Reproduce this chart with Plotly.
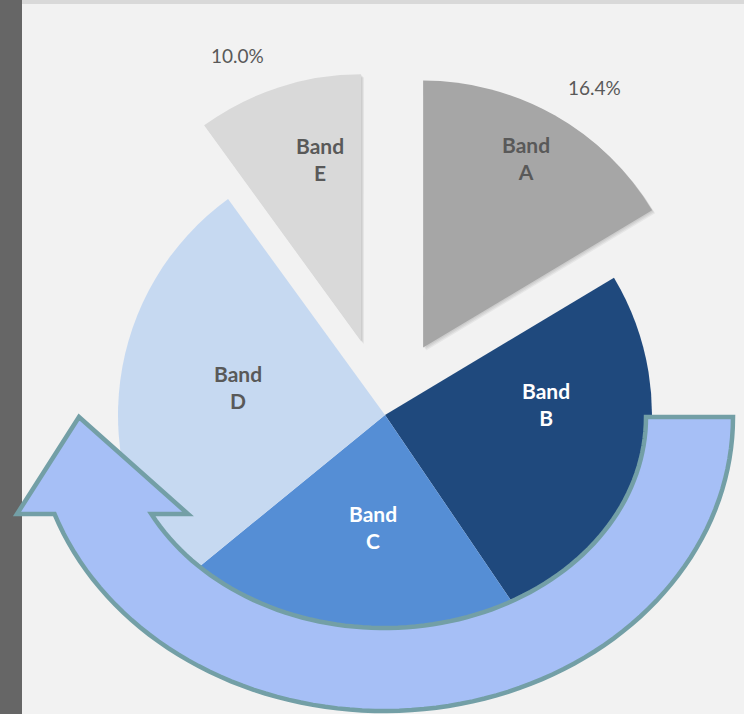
import numpy as np
import plotly.graph_objects as go

# ---------------- data ----------------
labels = ["Band A", "Band B", "Band C", "Band D", "Band E"]
values = [16.4, 24.1, 23.6, 25.9, 10.0]
label_text = ["Band<br>A", "Band<br>B", "Band<br>C", "Band<br>D", "Band<br>E"]
exploded = ["Band A", "Band E"]
pct_shown = ["Band A", "Band E"]

colors = ["#a6a6a6", "#1f497d", "#558ed5", "#c6d9f1", "#d9d9d9"]
text_colors = ["#595959", "#ffffff", "#ffffff", "#595959", "#595959"]

# label placement (style): angular offset from slice mid (deg), radius fraction
lab_dtheta = [-1.0, -16.3, -2.2, 3.3, 5.2]
lab_rfrac = [0.81, 0.605, 0.42, 0.56, 0.70]
pct_dtheta = [3.9, 0, 0, 0, -5.4]
pct_rfrac = [1.165, 0, 0, 0, 1.165]

# ---------------- layout constants ----------------
W, H = 744, 714
CX, CY, R = 385, 415, 267          # pie centre / radius in pixels
PULL = 0.29                        # explode distance as fraction of radius
FONT = "Lato"
TRANSPARENT = "rgba(0,0,0,0)"

total = sum(values)
cum = np.cumsum([0] + values[:-1])
mid_angles = [2 * np.pi * (c + v / 2) / total for c, v in zip(cum, values)]


def domain_for(dx=0.0, dy=0.0):
    cx, cy = CX + dx, CY + dy
    return dict(x=[(cx - R) / W, (cx + R) / W],
                y=[1 - (cy + R) / H, 1 - (cy - R) / H])


def pie(colors_, domain):
    return go.Pie(
        labels=labels, values=values, sort=False, direction="clockwise",
        rotation=0, domain=domain, showlegend=False,
        marker=dict(colors=colors_, line=dict(width=0)),
        textinfo="none", hoverinfo="label+percent",
    )


traces = []
centers = []
for i, l in enumerate(labels):
    if l in exploded:
        th = mid_angles[i]
        centers.append((PULL * R * np.sin(th), -PULL * R * np.cos(th)))
    else:
        centers.append((0.0, 0.0))

# main (non-exploded) slices
main_colors = [TRANSPARENT if l in exploded else c for l, c in zip(labels, colors)]
traces.append(pie(main_colors, domain_for()))

# exploded slices with a soft shadow
for i, l in enumerate(labels):
    if l not in exploded:
        continue
    dx, dy = centers[i]
    for off, alpha in [(3, 0.05), (2, 0.06), (1, 0.05)]:
        sh_cols = [(f"rgba(0,0,0,{alpha})" if j == i else TRANSPARENT) for j in range(len(labels))]
        traces.append(pie(sh_cols, domain_for(dx + off, dy + off)))
    cols = [(c if j == i else TRANSPARENT) for j, c in enumerate(colors)]
    traces.append(pie(cols, domain_for(dx, dy)))

fig = go.Figure(traces)


def px(x, y):
    return x / W, 1 - y / H


# ---------------- labels (positioned from slice geometry) ----------------
annotations = []
for i, l in enumerate(labels):
    dx, dy = centers[i]
    th = mid_angles[i] + np.radians(lab_dtheta[i])
    x = CX + dx + lab_rfrac[i] * R * np.sin(th)
    y = CY + dy - lab_rfrac[i] * R * np.cos(th)
    ax, ay = px(x, y)
    annotations.append(dict(x=ax, y=ay, xref="paper", yref="paper", showarrow=False,
                            text=f"<b>{label_text[i]}</b>", xanchor="center", yanchor="middle",
                            font=dict(family=FONT, size=21, color=text_colors[i])))
    if l in pct_shown:
        th = mid_angles[i] + np.radians(pct_dtheta[i])
        x = CX + dx + pct_rfrac[i] * R * np.sin(th)
        y = CY + dy - pct_rfrac[i] * R * np.cos(th)
        ax, ay = px(x, y)
        annotations.append(dict(x=ax, y=ay, xref="paper", yref="paper", showarrow=False,
                                text=f"{values[i] / total * 100:.1f}%",
                                xanchor="center", yanchor="middle",
                                font=dict(family=FONT, size=19, color="#595959")))

# ---------------- decorative curved arrow ----------------
ACX, ACY = 384, 417
RX_O, RY_O = 349, 294
RX_I, RY_I = 262, 211
HEAD_Y = 514
t_out_end = np.pi - np.arcsin((HEAD_Y - ACY) / RY_O)
t_in_end = np.pi - np.arcsin((HEAD_Y - ACY) / RY_I)

pts = []
for t in np.linspace(0, t_out_end, 80):
    pts.append(px(ACX + RX_O * np.cos(t), ACY + RY_O * np.sin(t)))
pts.append(px(17, HEAD_Y))
pts.append(px(79, 417))
pts.append(px(188, HEAD_Y))
for t in np.linspace(t_in_end, 0, 80):
    pts.append(px(ACX + RX_I * np.cos(t), ACY + RY_I * np.sin(t)))
path = "M " + " L ".join(f"{x:.5f},{y:.5f}" for x, y in pts) + " Z"

shapes = [
    dict(type="rect", xref="paper", yref="paper", x0=0, x1=22 / W, y0=0, y1=1,
         fillcolor="#666666", line=dict(width=0), layer="below"),
    dict(type="rect", xref="paper", yref="paper", x0=22 / W, x1=1, y0=1 - 4 / H, y1=1,
         fillcolor="#d9d9d9", line=dict(width=0), layer="below"),
    dict(type="path", xref="paper", yref="paper", path=path,
         fillcolor="#a6bff6", line=dict(color="#739fa6", width=4.5), layer="above"),
]

fig.update_layout(
    width=W, height=H,
    margin=dict(l=0, r=0, t=0, b=0),
    paper_bgcolor="#f2f2f2", plot_bgcolor="#f2f2f2",
    shapes=shapes, annotations=annotations,
    font=dict(family=FONT),
)

fig.write_html("out.html", config={"displayModeBar": False},
               post_script="document.body.style.margin='0px';")
